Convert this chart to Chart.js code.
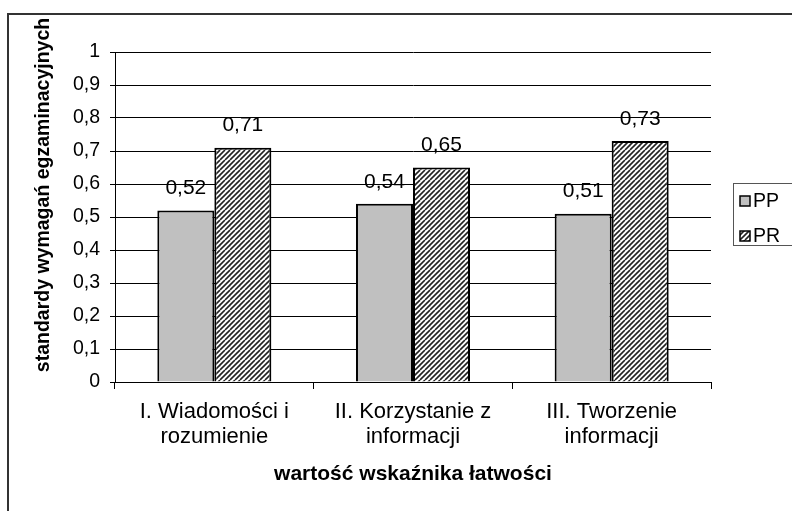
<!DOCTYPE html>
<html lang="pl">
<head>
  <meta charset="UTF-8" />
  <title>wartość wskaźnika łatwości</title>
  <script src="https://cdn.jsdelivr.net/npm/chart.js"></script>
  <style>
    html, body { margin: 0; padding: 0; background: #fff; }
    #wrap { width: 792px; height: 511px; position: relative; }
  </style>
</head>
<body>
  <div id="wrap"><canvas id="wykres"></canvas></div>

  <script>
    const kategorie = [
      ["I. Wiadomości i", "rozumienie"],
      ["II. Korzystanie z", "informacji"],
      ["III. Tworzenie", "informacji"]
    ];
    const seriaPP = [0.52, 0.54, 0.51];
    const seriaPR = [0.71, 0.65, 0.73];
    const nazwySerii = ["PP", "PR"];
    const tytulX = "wartość wskaźnika łatwości";
    const tytulY = "standardy wymagań egzaminacyjnych";

    const FONT = "'Liberation Sans', Arial, sans-serif";
    const przecinek = v => String(Number(v.toFixed(2))).replace(".", ",");

    // kreskowanie ukośne dla PR
    function kreski() {
      const c = document.createElement("canvas");
      c.width = 10; c.height = 10;
      const g = c.getContext("2d");
      g.fillStyle = "#fff";
      g.fillRect(0, 0, 10, 10);
      g.strokeStyle = "#222";
      g.lineWidth = 1.6;
      for (let x0 = -10; x0 <= 10; x0 += 5) {
        g.beginPath();
        g.moveTo(x0, 10);
        g.lineTo(x0 + 10, 0);
        g.stroke();
      }
      return g.createPattern(c, "repeat");
    }
    const wzorPR = kreski();
    const kolory = ["#c0c0c0", wzorPR];

    const ramka = {
      id: "ramka",
      afterDraw(chart) {
        const ctx = chart.ctx;
        ctx.save();
        ctx.strokeStyle = "#333";
        ctx.lineWidth = 2;
        ctx.beginPath();
        ctx.moveTo(8, 520);
        ctx.lineTo(8, 14);
        ctx.lineTo(800, 14);
        ctx.stroke();

        // tytuł osi Y
        ctx.fillStyle = "#000";
        ctx.font = "bold 19.5px " + FONT;
        ctx.textAlign = "center";
        ctx.textBaseline = "middle";
        ctx.translate(44, 195);
        ctx.rotate(-Math.PI / 2);
        ctx.fillText(tytulY, 0, 0);
        ctx.restore();

        // legenda
        ctx.save();
        ctx.strokeStyle = "#555";
        ctx.lineWidth = 1;
        ctx.strokeRect(733.5, 183.5, 80, 62);
        ctx.font = "19.5px " + FONT;
        ctx.textBaseline = "middle";
        chart.data.datasets.forEach((ds, i) => {
          const y = 201 + i * 35;
          ctx.fillStyle = ds.backgroundColor;
          ctx.fillRect(740, y - 5, 10, 10);
          ctx.strokeStyle = "#000";
          ctx.lineWidth = 1.5;
          ctx.strokeRect(740, y - 5, 10, 10);
          ctx.fillStyle = "#000";
          ctx.fillText(ds.label, 753, y + 1);
        });
        ctx.restore();
      }
    };

    const etykiety = {
      id: "etykiety",
      afterDatasetsDraw(chart) {
        const ctx = chart.ctx;
        ctx.save();
        ctx.font = "21px " + FONT;
        ctx.fillStyle = "#000";
        ctx.textAlign = "center";
        ctx.textBaseline = "middle";
        chart.data.datasets.forEach((ds, i) => {
          chart.getDatasetMeta(i).data.forEach((bar, j) => {
            ctx.fillText(przecinek(ds.data[j]), bar.x, bar.y - 22);
          });
        });
        ctx.restore();
      }
    };

    new Chart(document.getElementById("wykres"), {
      type: "bar",
      data: {
        labels: kategorie,
        datasets: [
          { label: nazwySerii[0], data: seriaPP, backgroundColor: kolory[0], borderColor: "#000", borderWidth: 2 },
          { label: nazwySerii[1], data: seriaPR, backgroundColor: kolory[1], borderColor: "#000", borderWidth: 2 }
        ]
      },
      options: {
        responsive: true,
        maintainAspectRatio: false,
        animation: false,
        layout: { padding: { top: 52, right: 81, left: 0, bottom: 0 } },
        datasets: { bar: { categoryPercentage: 0.574, barPercentage: 1 } },
        plugins: { legend: { display: false }, tooltip: { enabled: false } },
        scales: {
          x: {
            afterFit(s) { s.height = 129; },
            grid: { drawOnChartArea: false, color: "#000", tickLength: 7, offset: true },
            border: { color: "#000", width: 1 },
            ticks: { color: "#000", font: { family: FONT, size: 22, lineHeight: 1.15 }, padding: 10, maxRotation: 0 },
            title: {
              display: true, text: tytulX, color: "#000",
              font: { family: FONT, size: 21, weight: "bold", lineHeight: 1.2 },
              padding: { top: 0, bottom: 24 }
            }
          },
          y: {
            min: 0, max: 1,
            afterFit(s) { s.width = 115; },
            grid: { color: "#000", tickLength: 5 },
            border: { color: "#000", width: 1 },
            ticks: {
              stepSize: 0.1, color: "#000", padding: 10,
              font: { family: FONT, size: 19.5 },
              callback: v => String(Number(v.toFixed(1))).replace(".", ",")
            }
          }
        }
      },
      plugins: [etykiety, ramka]
    });
  </script>
</body>
</html>
